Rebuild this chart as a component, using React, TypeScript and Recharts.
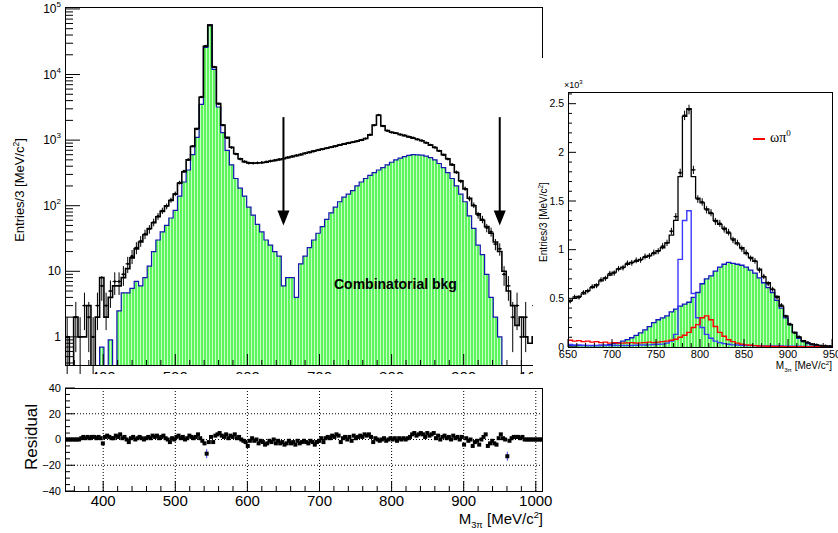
import React from 'react';
import { Area, ComposedChart, ErrorBar, Line, ReferenceLine, Scatter, XAxis, YAxis } from 'recharts';

const FONT = '"Liberation Sans", Arial, Helvetica, sans-serif';

// ---- main panel: M(3pi) spectrum, 6 MeV bins from 347 MeV ----
const MAIN_BIN_START = 347;
const MAIN_BIN_WIDTH = 6;

const mainCombinatorial = [
  0.01, 0.01, 0.01, 0.01, 0.01, 0.01, 0.01, 0.01, 0.7, 0.01,
  0.9, 0.01, 2.5, 4.7, 4.7, 5.5, 7, 6, 8, 12,
  20, 30, 40, 50, 65, 85, 140, 230, 350, 600,
  1100, 3500, 26000, 57000, 12000, 3200, 1300, 700, 420, 260,
  185, 140, 95, 72, 52, 40, 30, 25, 20, 17,
  6, 8, 8, 4, 13, 17, 23, 30, 38, 48,
  62, 78, 95, 115, 135, 150, 170, 200, 230, 260,
  290, 320, 350, 380, 420, 460, 500, 530, 560, 585,
  600, 595, 590, 570, 540, 500, 440, 380, 320, 260,
  200, 150, 115, 70, 45, 25, 18, 9, 4, 2,
  1, 0.01, 0.01, 0.01, 0.01, 0.01, 0.01, 0.01, 0.01, 0.01, 0.01,
];

const mainTotal = [
  1, 0.01, 2, 1, 1, 3, 0.01, 2, 8, 2,
  4, 6, 6, 8, 11, 16, 22, 28, 36, 45,
  55, 68, 82, 100, 120, 150, 220, 330, 500, 800,
  1500, 4500, 27000, 57000, 13000, 3600, 1700, 1100, 780, 620,
  520, 470, 450, 445, 448, 452, 460, 475, 490, 505,
  520, 540, 560, 580, 600, 630, 650, 680, 700, 730,
  750, 780, 810, 840, 870, 900, 930, 960, 1000, 1060,
  1200, 1700, 2400, 1650, 1400, 1320, 1270, 1220, 1170, 1120,
  1070, 1020, 980, 910, 840, 770, 690, 600, 520, 420,
  320, 240, 180, 130, 100, 75, 60, 48, 38, 28,
  20, 10, 5, 3, 1.5, 2, 1, 0.8, 1, 0.5, 0.5,
];

const mainData = [
  1, 0, 2, 1, 3, 2, 1, 3, 6, 3,
  5, 7, 7, 9, 13, 17, 23, 29, 37, 44,
  56, 69, 84, 98, 122, 152, 225, 335, 505, 810,
  1480, 4550, 27200, 56500, 13100, 3580, 1690, 1080, 770, 615,
  515, 468, 448, 446, 450, 455, 466, 480, 494, 508,
  524, 545, 565, 585, 605, 628, 655, 678, 705, 728,
  756, 782, 808, 845, 876, 905, 932, 963, 1005, 1055,
  1210, 1680, 2410, 1640, 1390, 1310, 1280, 1215, 1180, 1130,
  1085, 1030, 985, 915, 845, 775, 685, 595, 515, 425,
  325, 236, 182, 128, 102, 72, 62, 46, 40, 26,
  22, 9, 6, 2, 3, 1, 2, 0, 3, 1, 0,
];

const cutMasses = [650, 950];
const arrowSpan = [2240, 50];

// ---- residual panel: 3 MeV points ----
const RES_START = 348.5;
const RES_STEP = 3;
const residuals = [
  0, 0, 0, 0, 0, 0, 0, 1, 2, 1,
  2, 1, 2, 2, 1, 2, 1, -3, 2, 3,
  2, 1, 1, 3, 2, 4, 1, 2, 0, -2,
  1, 2, 0, 1, 2, 1, 0, 1, 2, 1,
  3, 2, 3, 1, 2, 3, 1, 0, -2, 1,
  0, 2, 3, 1, 2, 0, 1, 3, 2, 1,
  2, 4, 1, -1, -3, -11, -2, 2, -2, 3,
  4, 5, 3, 2, 4, 1, 3, 2, 4, 1,
  2, 0, -1, -2, -5, -1, 1, -1, 0, -3,
  -1, -2, -4, -3, -1, -2, 0, -3, -1, -3,
  -2, -4, -3, -1, -3, -2, -4, -1, -3, -2,
  -1, -2, -3, -1, -2, -4, -2, -1, 1, -2,
  1, 2, 1, 3, 2, 4, 3, -2, 1, 2,
  0, 2, -1, 3, 1, 2, 3, 2, 4, 3,
  4, 2, -2, 1, 0, -1, 0, 1, -1, 0,
  1, 0, 1, -1, 1, 0, 1, 0, 1, 2,
  4, 5, 3, 4, 5, 4, 2, 5, 3, 4,
  5, 1, 3, 0, 2, 3, 1, 2, 0, 3,
  1, 2, 0, 2, -4, 1, -1, 0, -5, -2,
  -1, -4, 0, 2, 4, -5, -3, -1, -3, -4,
  1, 4, 1, 0, -13, -1, 1, 2, 2, 2,
  1, 2, 0, 0, 0, 0, 0, 0, 0, 0,
  0,
];

// ---- inset: 650-950 MeV, 5 MeV bins ----
const INSET_BIN_START = 650;
const INSET_BIN_WIDTH = 5;

const insetTotal = [
  480, 500, 520, 545, 580, 610, 640, 680, 710, 740,
  770, 800, 820, 850, 870, 880, 900, 920, 940, 960,
  990, 1020, 1070, 1150, 1300, 1750, 2370, 2450, 1750, 1530,
  1480, 1420, 1370, 1300, 1260, 1220, 1170, 1110, 1060, 1020,
  960, 920, 880, 800, 720, 660, 590, 520, 420, 320,
  230, 150, 100, 65, 45, 30, 22, 15, 12, 8,
];
const insetCombinatorial = [
  15, 15, 15, 15, 15, 15, 15, 18, 20, 25,
  35, 45, 60, 75, 95, 120, 145, 175, 210, 250,
  280, 300, 320, 360, 390, 420, 440, 460, 510, 560,
  650, 700, 730, 780, 820, 850, 870, 860, 850, 840,
  820, 790, 760, 710, 660, 610, 560, 480, 400, 300,
  230, 150, 90, 55, 35, 25, 15, 10, 8, 5,
];
const insetSignal = [
  25, 20, 20, 18, 15, 15, 15, 15, 15, 15,
  15, 15, 15, 15, 15, 18, 20, 20, 22, 25,
  28, 30, 40, 60, 130, 900, 1300, 1400, 550, 300,
  200, 130, 90, 60, 45, 35, 28, 22, 20, 18,
  16, 15, 14, 13, 12, 12, 11, 10, 10, 9,
  8, 8, 7, 6, 5, 5, 4, 4, 3, 3,
];
const insetOmegaPi0 = [
  70, 60, 65, 55, 60, 50, 55, 45, 50, 40,
  45, 40, 40, 42, 45, 40, 42, 45, 50, 45,
  50, 55, 60, 70, 80, 100, 120, 150, 200, 230,
  300, 320, 280, 210, 150, 110, 75, 55, 40, 30,
  22, 18, 14, 11, 9, 7, 6, 5, 5, 4,
  4, 3, 3, 3, 2, 2, 2, 2, 2, 2,
];
const insetData = [
  470, 515, 510, 560, 575, 620, 630, 690, 705, 755,
  760, 805, 815, 860, 865, 890, 895, 930, 935, 970,
  985, 1035, 1070, 1190, 1340, 1790, 2380, 2440, 1820, 1520,
  1490, 1410, 1380, 1290, 1270, 1210, 1180, 1100, 1070, 1010,
  970, 910, 885, 790, 725, 650, 595, 510, 430, 315,
  235, 145, 105, 60, 48, 28, 24, 14, 13, 7,
];

// ---- ticks ----
const mainYMajor = [1, 10, 100, 1000, 10000, 100000];
const massMajor = [400, 500, 600, 700, 800, 900, 1000];
const residualMajor = [40, 20, 0, -20, -40];
const residualGrid = [20, 0, -20];
const insetXMajor = [650, 700, 750, 800, 850, 900, 950];
const insetYMajor = [0, 500, 1000, 1500, 2000, 2500];

const range = (a: number, b: number, s: number) => {
  const out: number[] = [];
  for (let v = a; v <= b + 1e-9; v += s) out.push(v);
  return out;
};

const mainYTicks = [0.1, 1, 10, 100, 1000, 10000]
  .flatMap((d) => [1, 2, 3, 4, 5, 6, 7, 8, 9].map((m) => d * m))
  .filter((v) => v >= 0.36)
  .concat([100000]);
const massTicks = range(360, 1000, 20);
const residualYTicks = range(-40, 40, 5);
const insetXTicks = range(650, 950, 10);
const insetYTicks = range(0, 2600, 100);

// ---- tables ----
function stepRows(start: number, width: number, series: Record<string, number[]>) {
  const keys = Object.keys(series);
  const n = series[keys[0]].length;
  const rows: any[] = [];
  for (let i = 0; i <= n; i++) {
    const j = Math.min(i, n - 1);
    const row: any = { x: start + i * width };
    keys.forEach((k) => (row[k] = series[k][j]));
    rows.push(row);
  }
  return rows;
}

function pointRows(start: number, width: number, counts: number[]) {
  return counts
    .map((n, i) => ({
      x: start + (i + 0.5) * width,
      y: n,
      ex: width / 2,
      ey: [Math.min(Math.sqrt(n), n - 0.02), Math.sqrt(n)],
    }))
    .filter((p) => p.y > 0);
}

const mainRows = stepRows(MAIN_BIN_START, MAIN_BIN_WIDTH, { comb: mainCombinatorial, total: mainTotal });
const mainPoints = pointRows(MAIN_BIN_START, MAIN_BIN_WIDTH, mainData);
const residualPoints = residuals.map((v, i) => ({
  x: RES_START + i * RES_STEP,
  y: v,
  err: Math.abs(v) > 8 ? 3.5 : 0.8,
}));
const insetRows = stepRows(INSET_BIN_START, INSET_BIN_WIDTH, {
  comb: insetCombinatorial,
  signal: insetSignal,
  omegaPi0: insetOmegaPi0,
  total: insetTotal,
});
const insetPoints = pointRows(INSET_BIN_START, INSET_BIN_WIDTH, insetData);

// ---- tick renderers ----
function makeXTick(majors: number[], majorLen: number, minorLen: number, fontSize: number, gap: number) {
  return (props: any) => {
    const { x, y, payload } = props;
    const v = payload.value;
    const major = majors.some((m) => Math.abs(m - v) < 1e-6);
    return (
      <g>
        <line x1={x} x2={x} y1={y} y2={y - (major ? majorLen : minorLen)} stroke="#000" />
        {major && (
          <text x={x} y={y + gap} textAnchor="middle" fontSize={fontSize} fontFamily={FONT} fill="#000">
            {v}
          </text>
        )}
      </g>
    );
  };
}

function makeYTick(majors: number[], majorLen: number, minorLen: number, fontSize: number, fmt: (v: number) => string) {
  return (props: any) => {
    const { x, y, payload } = props;
    const v = payload.value;
    const major = majors.some((m) => Math.abs(m - v) < 1e-6);
    return (
      <g>
        <line x1={x} x2={x + (major ? majorLen : minorLen)} y1={y} y2={y} stroke="#000" />
        {major && (
          <text x={x - 4} y={y + fontSize * 0.36} textAnchor="end" fontSize={fontSize} fontFamily={FONT} fill="#000">
            {fmt(v)}
          </text>
        )}
      </g>
    );
  };
}

function MainLogTick(props: any) {
  const { x, y, payload } = props;
  const v = payload.value;
  const major = mainYMajor.includes(v);
  const exp = Math.round(Math.log10(v));
  return (
    <g>
      <line x1={x} x2={x + (major ? 15 : 8)} y1={y} y2={y} stroke="#000" />
      {major && (
        <text x={x - 4} y={y + 4} textAnchor="end" fontSize={12} fontFamily={FONT} fill="#000">
          {exp <= 1 ? String(v) : '10'}
          {exp > 1 && (
            <tspan dy={-6} fontSize={8}>
              {exp}
            </tspan>
          )}
        </text>
      )}
    </g>
  );
}

const mainXTick = makeXTick(massMajor, 12, 6, 15, 16);
const residualXTick = makeXTick(massMajor, 10, 5, 15, 15);
const residualYTick = makeYTick(residualMajor, 10, 5, 11, (v) => (v < 0 ? `\u2212${-v}` : String(v)));
const insetXTick = makeXTick(insetXMajor, 8, 4, 11, 11);
const insetYTick = makeYTick(insetYMajor, 8, 4, 10.5, (v) => String(v / 1000));

const ArrowShape = (p: any) => {
  const { x1, y1, x2, y2 } = p;
  return (
    <g>
      <line x1={x1} y1={y1} x2={x2} y2={y2 - 12} stroke="#000" strokeWidth={2} />
      <polygon points={`${x2 - 6},${y2 - 15} ${x2 + 6},${y2 - 15} ${x2},${y2}`} fill="#000" />
    </g>
  );
};

const DataDot = (p: any) => <circle cx={p.cx} cy={p.cy} r={1.2} fill="#000" />;
const ResidualSquare = (p: any) => <rect x={p.cx - 2} y={p.cy - 2} width={4} height={4} fill="#000" />;

const MassTitle = ({ size }: { size: number }) => (
  <span>
    M<span style={{ fontSize: size * 0.62, position: 'relative', top: size * 0.25 }}>3π</span> [MeV/c
    <span style={{ fontSize: size * 0.62, position: 'relative', top: -size * 0.4 }}>2</span>]
  </span>
);

const EntriesTitle = ({ size }: { size: number }) => (
  <span>
    Entries/3 [MeV/c<span style={{ fontSize: size * 0.65, position: 'relative', top: -size * 0.4 }}>2</span>]
  </span>
);

const abs = (left: number, top: number, extra: React.CSSProperties = {}): React.CSSProperties => ({
  position: 'absolute',
  left,
  top,
  lineHeight: 1,
  whiteSpace: 'nowrap',
  color: '#000',
  fontFamily: FONT,
  ...extra,
});

export default function App() {
  return (
    <div style={{ position: 'absolute', left: 0, top: 0, width: 838, height: 533, background: '#fff', overflow: 'hidden' }}>
      <svg width={0} height={0} style={{ position: 'absolute' }}>
        <defs>
          <pattern id="combFill" width={3} height={4} patternUnits="userSpaceOnUse">
            <rect width={3} height={4} fill="#5cf55c" />
            <rect x={2} width={1} height={4} fill="#c8ffc8" />
          </pattern>
        </defs>
      </svg>

      {/* main spectrum, log scale */}
      <div style={{ position: 'absolute', left: 0, top: 0 }}>
        <ComposedChart width={560} height={380} data={mainRows} margin={{ top: 7, right: 17, bottom: 0, left: 0 }}>
          <XAxis
            dataKey="x"
            type="number"
            domain={[347, 1010]}
            allowDataOverflow
            ticks={massTicks}
            interval={0}
            height={14}
            tickSize={0}
            tickMargin={0}
            tickLine={false}
            axisLine={false}
            tick={mainXTick}
          />
          <YAxis
            type="number"
            scale="log"
            domain={[0.36, 107000]}
            allowDataOverflow
            ticks={mainYTicks}
            interval={0}
            width={65}
            tickSize={0}
            tickMargin={0}
            tickLine={false}
            axisLine={false}
            tick={MainLogTick}
          />
          <Area type="stepAfter" dataKey="comb" stroke="#1515b0" strokeWidth={1.2} fill="url(#combFill)" fillOpacity={1} isAnimationActive={false} />
          <Line type="stepAfter" dataKey="total" stroke="#000" strokeWidth={1.6} dot={false} isAnimationActive={false} />
          <Scatter data={mainPoints} dataKey="y" shape={DataDot} isAnimationActive={false}>
            <ErrorBar dataKey="ey" direction="y" width={0} stroke="#000" strokeWidth={1} isAnimationActive={false} />
            <ErrorBar dataKey="ex" direction="x" width={0} stroke="#000" strokeWidth={1} isAnimationActive={false} />
          </Scatter>
          {cutMasses.map((m) => (
            <ReferenceLine
              key={m}
              segment={[
                { x: m, y: arrowSpan[0] },
                { x: m, y: arrowSpan[1] },
              ]}
              ifOverflow="visible"
              shape={ArrowShape}
            />
          ))}
        </ComposedChart>
      </div>
      <div style={{ position: 'absolute', left: 65, top: 7, width: 478, height: 359, border: '1px solid #000', boxSizing: 'border-box' }} />
      <div style={abs(19, 190, { fontSize: 13, transform: 'translate(-50%, -50%) rotate(-90deg)' })}>
        <EntriesTitle size={13} />
      </div>
      <div style={abs(334, 277, { fontSize: 14, fontWeight: 'bold' })}>Combinatorial bkg</div>

      {/* inset: linear scale zoom on 650-950 MeV */}
      <div style={{ position: 'absolute', left: 533, top: 58, width: 305, height: 316, background: '#fff' }}>
        <ComposedChart width={305} height={318} data={insetRows} margin={{ top: 34, right: 6, bottom: 0, left: 0 }}>
          <XAxis
            dataKey="x"
            type="number"
            domain={[650, 950]}
            allowDataOverflow
            ticks={insetXTicks}
            interval={0}
            height={29}
            tickSize={0}
            tickMargin={0}
            tickLine={false}
            axisLine={false}
            tick={insetXTick}
          />
          <YAxis
            type="number"
            domain={[0, 2620]}
            allowDataOverflow
            ticks={insetYTicks}
            interval={0}
            width={35}
            tickSize={0}
            tickMargin={0}
            tickLine={false}
            axisLine={false}
            tick={insetYTick}
          />
          <Area type="stepAfter" dataKey="comb" stroke="#1515c0" strokeWidth={1.3} fill="url(#combFill)" fillOpacity={1} isAnimationActive={false} />
          <Line type="stepAfter" dataKey="signal" stroke="#3a3aff" strokeWidth={1.4} dot={false} isAnimationActive={false} />
          <Line type="stepAfter" dataKey="omegaPi0" stroke="#ff0000" strokeWidth={1.4} dot={false} isAnimationActive={false} />
          <Line type="stepAfter" dataKey="total" stroke="#000" strokeWidth={1.3} dot={false} isAnimationActive={false} />
          <Scatter data={insetPoints} dataKey="y" shape={DataDot} isAnimationActive={false}>
            <ErrorBar dataKey="ey" direction="y" width={0} stroke="#000" strokeWidth={1} isAnimationActive={false} />
            <ErrorBar dataKey="ex" direction="x" width={0} stroke="#000" strokeWidth={1} isAnimationActive={false} />
          </Scatter>
        </ComposedChart>
        <div style={{ position: 'absolute', left: 35, top: 34, width: 265, height: 256, border: '1px solid #000', boxSizing: 'border-box' }} />
        <div style={abs(31, 23, { fontSize: 9 })}>
          ×10<span style={{ fontSize: 6, position: 'relative', top: -4 }}>3</span>
        </div>
        <div style={abs(11, 164, { fontSize: 10, transform: 'translate(-50%, -50%) rotate(-90deg)' })}>
          <EntriesTitle size={10} />
        </div>
        <div style={{ position: 'absolute', left: 220, top: 80, width: 12, height: 1.5, background: '#ff0000' }} />
        <div style={abs(237, 73, { fontSize: 14, fontFamily: '"Liberation Serif", "DejaVu Serif", serif' })}>
          ωπ<span style={{ fontSize: 9, position: 'relative', top: -6 }}>0</span>
        </div>
        <div style={{ ...abs(0, 303, { fontSize: 10 }), left: 'auto', right: 6 }}>
          <MassTitle size={10} />
        </div>
      </div>

      {/* residual panel */}
      <div style={{ position: 'absolute', left: 0, top: 374, width: 560, height: 159, background: '#fff' }}>
        <ComposedChart width={560} height={159} margin={{ top: 14, right: 17, bottom: 0, left: 0 }}>
          <XAxis
            dataKey="x"
            type="number"
            domain={[347, 1010]}
            allowDataOverflow
            ticks={massTicks}
            interval={0}
            height={42}
            tickSize={0}
            tickMargin={0}
            tickLine={false}
            axisLine={false}
            tick={residualXTick}
          />
          <YAxis
            type="number"
            domain={[-40, 40]}
            allowDataOverflow
            ticks={residualYTicks}
            interval={0}
            width={65}
            tickSize={0}
            tickMargin={0}
            tickLine={false}
            axisLine={false}
            tick={residualYTick}
          />
          {massMajor.map((m) => (
            <ReferenceLine key={`gx${m}`} x={m} stroke="#000" strokeDasharray="1 2" />
          ))}
          {residualGrid.map((r) => (
            <ReferenceLine key={`gy${r}`} y={r} stroke="#000" strokeDasharray="1 2" />
          ))}
          <Scatter data={residualPoints} dataKey="y" shape={ResidualSquare} isAnimationActive={false}>
            <ErrorBar dataKey="err" direction="y" width={0} stroke="#3a3aff" strokeWidth={1} isAnimationActive={false} />
          </Scatter>
        </ComposedChart>
        <div style={{ position: 'absolute', left: 65, top: 14, width: 478, height: 104, border: '1px solid #000', boxSizing: 'border-box' }} />
        <div style={abs(31, 63, { fontSize: 17, transform: 'translate(-50%, -50%) rotate(-90deg)' })}>Residual</div>
        <div style={{ ...abs(0, 137, { fontSize: 15 }), left: 'auto', right: 17 }}>
          <MassTitle size={15} />
        </div>
      </div>
    </div>
  );
}
